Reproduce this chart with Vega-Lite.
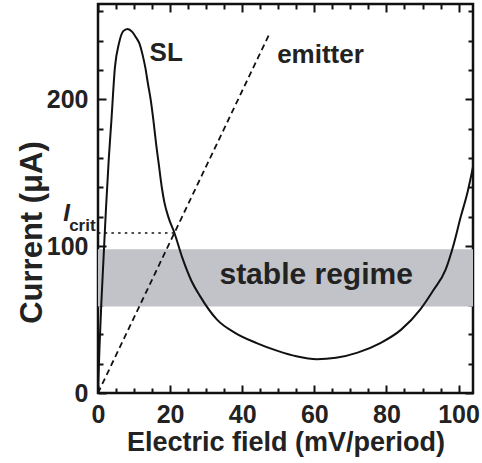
{
  "$schema": "https://vega.github.io/schema/vega-lite/v6.json",
  "autosize": "none",
  "width": 375,
  "height": 389,
  "padding": {"left": 98, "top": 4, "right": 9, "bottom": 70},
  "config": {
    "view": {"stroke": "#111", "strokeWidth": 2.5},
    "font": "Liberation Sans",
    "axis": {
      "domain": false,
      "grid": false,
      "ticks": true,
      "zindex": 1,
      "tickColor": "#111",
      "tickOpacity": 1,
      "tickWidth": 2,
      "labelFont": "Liberation Sans",
      "labelFontWeight": "bold",
      "labelFontSize": 25,
      "labelColor": "#222",
      "titleFont": "Liberation Sans",
      "titleFontWeight": "bold",
      "titleColor": "#222"
    }
  },
  "resolve": {"axis": {"x": "independent", "y": "independent"}},
  "layer": [
    {
      "data": {"values": [{"lo": 59, "hi": 98}]},
      "mark": {"type": "rect", "color": "#c1c3c8"},
      "encoding": {
        "y": {"field": "lo", "type": "quantitative", "scale": {"domain": [0, 265], "nice": false, "zero": false}, "axis": null},
        "y2": {"field": "hi"}
      }
    },
    {
      "data": {"values": [{"x0": 0, "x1": 21.2, "i": 109}]},
      "mark": {"type": "rule", "color": "#111", "strokeWidth": 1.6, "strokeDash": [2.5, 4.2]},
      "encoding": {
        "x": {
          "field": "x0", "type": "quantitative", "scale": {"domain": [0, 104], "nice": false, "zero": false},
          "axis": {"orient": "bottom", "title": null, "labels": false, "tickSize": 5, "offset": -5,
                   "values": [5, 10, 15, 25, 30, 35, 45, 50, 55, 65, 70, 75, 85, 90, 95]}
        },
        "x2": {"field": "x1"},
        "y": {
          "field": "i", "type": "quantitative",
          "axis": {"orient": "left", "title": null, "labels": false, "tickSize": 5, "offset": -5,
                   "values": [20, 40, 60, 80, 120, 140, 160, 180, 220, 240, 260]}
        }
      }
    },
    {
      "data": {"values": [
        {"field": 0, "current": 0},
        {"field": 47.6, "current": 245}
      ]},
      "mark": {"type": "line", "color": "#111", "strokeWidth": 1.8, "strokeDash": [6, 4]},
      "encoding": {
        "x": {
          "field": "field", "type": "quantitative",
          "axis": {"orient": "top", "title": null, "labels": false, "tickSize": 8, "offset": -8,
                   "values": [0, 20, 40, 60, 80, 100]}
        },
        "y": {
          "field": "current", "type": "quantitative",
          "axis": {"orient": "right", "title": null, "labels": false, "tickSize": 8, "offset": -8,
                   "values": [0, 100, 200]}
        }
      }
    },
    {
      "data": {"values": [
        {"field": 0, "current": 0},
        {"field": 0.4, "current": 30},
        {"field": 0.9, "current": 60},
        {"field": 1.5, "current": 90},
        {"field": 2.2, "current": 125},
        {"field": 3.0, "current": 160},
        {"field": 3.7, "current": 185},
        {"field": 4.7, "current": 222},
        {"field": 5.8, "current": 238},
        {"field": 7.0, "current": 246.5},
        {"field": 8.2, "current": 248},
        {"field": 9.5, "current": 246},
        {"field": 10.6, "current": 242},
        {"field": 11.5, "current": 238},
        {"field": 12.4, "current": 230},
        {"field": 13.1, "current": 222},
        {"field": 13.9, "current": 210},
        {"field": 14.6, "current": 200},
        {"field": 15.4, "current": 185},
        {"field": 16.1, "current": 170},
        {"field": 16.9, "current": 155},
        {"field": 17.7, "current": 140},
        {"field": 18.4, "current": 130},
        {"field": 19.5, "current": 120},
        {"field": 21.2, "current": 109},
        {"field": 23.4, "current": 92},
        {"field": 25.8, "current": 77},
        {"field": 28.3, "current": 66},
        {"field": 33, "current": 50},
        {"field": 38, "current": 41},
        {"field": 44, "current": 34},
        {"field": 50, "current": 28.5},
        {"field": 55, "current": 25},
        {"field": 60.7, "current": 23},
        {"field": 66, "current": 24},
        {"field": 72, "current": 27.5},
        {"field": 78.3, "current": 34},
        {"field": 84, "current": 43},
        {"field": 89.4, "current": 57},
        {"field": 93, "current": 70},
        {"field": 96.4, "current": 84},
        {"field": 98.5, "current": 100},
        {"field": 100.6, "current": 120},
        {"field": 102.5, "current": 137},
        {"field": 104, "current": 154}
      ]},
      "mark": {"type": "line", "color": "#111", "strokeWidth": 2, "interpolate": "monotone"},
      "encoding": {
        "x": {
          "field": "field", "type": "quantitative",
          "axis": {
            "orient": "bottom", "title": "Electric field (mV/period)",
            "titleFontSize": 27, "titleY": 65, "titleBaseline": "alphabetic",
            "values": [0, 20, 40, 60, 80, 100],
            "tickSize": 8, "offset": -8,
            "labelBaseline": "alphabetic", "labelPadding": 29, "labelFlush": false
          }
        },
        "y": {
          "field": "current", "type": "quantitative",
          "axis": {
            "orient": "left", "title": "Current (μA)",
            "titleFontSize": 31, "titleX": -65, "titleY": 228, "titleBaseline": "alphabetic", "titleAlign": "center",
            "values": [0, 100, 200],
            "tickSize": 8, "offset": -8,
            "labelPadding": 10, "labelFlush": false
          }
        }
      }
    },
    {
      "data": {"values": [
        {"text": "SL", "x": 18.9, "y": 226},
        {"text": "emitter", "x": 61.7, "y": 225}
      ]},
      "mark": {"type": "text", "font": "Liberation Sans", "fontWeight": "bold", "fontSize": 26, "color": "#222", "baseline": "alphabetic", "align": "center"},
      "encoding": {
        "x": {
          "field": "x", "type": "quantitative",
          "axis": {"orient": "top", "title": null, "labels": false, "tickSize": 5, "offset": -5,
                   "values": [5, 10, 15, 25, 30, 35, 45, 50, 55, 65, 70, 75, 85, 90, 95]}
        },
        "y": {
          "field": "y", "type": "quantitative",
          "axis": {"orient": "right", "title": null, "labels": false, "tickSize": 5, "offset": -5,
                   "values": [20, 40, 60, 80, 120, 140, 160, 180, 220, 240, 260]}
        },
        "text": {"field": "text"}
      }
    },
    {
      "data": {"values": [{"text": "stable regime", "x": 60.5, "y": 74.4}]},
      "mark": {"type": "text", "font": "Liberation Sans", "fontWeight": "bold", "fontSize": 30, "color": "#222", "baseline": "alphabetic", "align": "center"},
      "encoding": {
        "x": {"field": "x", "type": "quantitative", "axis": null},
        "y": {"field": "y", "type": "quantitative", "axis": null},
        "text": {"field": "text"}
      }
    },
    {
      "data": {"values": [{"text": "I", "x": -8.7, "y": 116.9}]},
      "mark": {"type": "text", "font": "Liberation Sans", "fontWeight": "bold", "fontStyle": "italic", "fontSize": 24, "color": "#222", "baseline": "alphabetic", "align": "center", "clip": false},
      "encoding": {
        "x": {"field": "x", "type": "quantitative", "axis": null},
        "y": {"field": "y", "type": "quantitative", "axis": null},
        "text": {"field": "text"}
      }
    },
    {
      "data": {"values": [{"text": "crit", "x": -8.0, "y": 110.6}]},
      "mark": {"type": "text", "font": "Liberation Sans", "fontWeight": "bold", "fontSize": 17, "color": "#222", "baseline": "alphabetic", "align": "left", "clip": false},
      "encoding": {
        "x": {"field": "x", "type": "quantitative", "axis": null},
        "y": {"field": "y", "type": "quantitative", "axis": null},
        "text": {"field": "text"}
      }
    }
  ]
}
